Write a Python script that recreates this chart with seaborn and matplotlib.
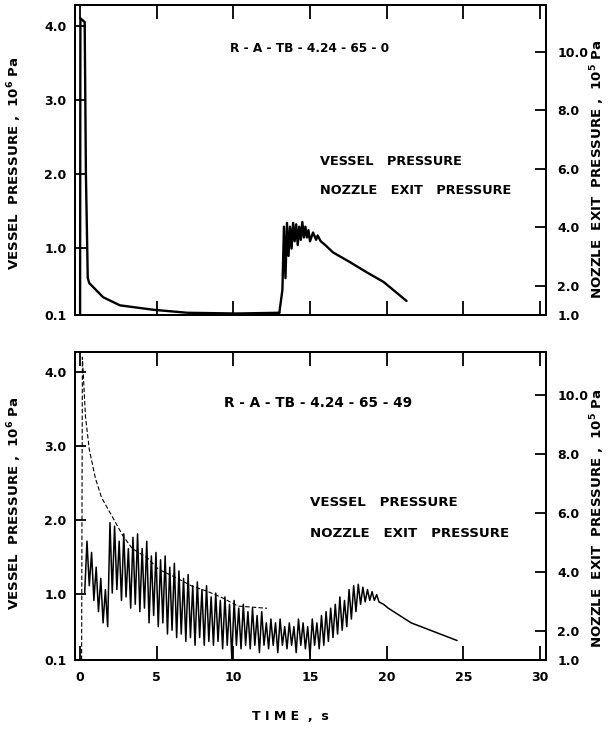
import matplotlib
matplotlib.use("Agg")
import matplotlib.pyplot as plt
import seaborn as sns

sns.set_style("ticks")
plt.rcParams['font.family'] = ['DejaVu Sans']
plt.rcParams['font.weight'] = 'bold'
for k in ("text.color", "axes.labelcolor", "xtick.color", "ytick.color", "axes.edgecolor"):
    plt.rcParams[k] = "black"

# ---------------- data ----------------
x_ticks = [0, 5, 10, 15, 20, 25, 30]
left_ticks = [0.1, 1.0, 2.0, 3.0, 4.0]
left_labels = ["0.1", "1.0", "2.0", "3.0", "4.0"]
right_ticks = [1.0, 2.0, 4.0, 6.0, 8.0, 10.0]
right_labels = ["1.0", "2.0", "4.0", "6.0", "8.0", "10.0"]

# top panel: R-A-TB-4.24-65-0
top_vessel_t = [0.0, 0.02, 0.3, 0.38, 0.5, 0.6, 1.5, 2.6, 4.8, 7.0, 10.2, 13.0]
top_vessel_p = [0.1, 4.1, 4.05, 2.0, 0.6, 0.53, 0.34, 0.23, 0.17, 0.13, 0.12, 0.13]   # 10^6 Pa

top_nozzle_t = [13.0, 13.2, 13.3, 13.4, 13.5, 13.6, 13.7, 13.8, 13.9, 14.0, 14.1, 14.2,
                14.3, 14.4, 14.5, 14.6, 14.7, 14.8, 14.9, 15.0, 15.2, 15.4, 15.5, 15.7,
                16.0, 16.5, 17.6, 18.7, 19.8, 21.3]
top_nozzle_p = [1.08, 1.86, 4.02, 2.26, 4.15, 3.02, 4.02, 3.27, 4.15, 3.52, 4.10, 3.39,
                4.02, 3.57, 4.18, 3.65, 4.02, 3.65, 3.90, 3.52, 3.82, 3.57, 3.72, 3.52,
                3.39, 3.14, 2.81, 2.46, 2.13, 1.48]                                        # 10^5 Pa

# bottom panel: R-A-TB-4.24-65-49
bot_vessel_t = [0.1, 0.15, 0.35, 0.6, 1.0, 1.4, 2.8, 3.4, 4.4, 5.1, 6.4, 7.3, 8.3, 9.3, 10.3, 12.2]
bot_vessel_p = [0.1, 4.2, 3.4, 2.95, 2.56, 2.3, 1.78, 1.61, 1.48, 1.33, 1.2, 1.1, 1.03, 0.94, 0.83, 0.8]

bot_nozzle_t = [0.30, 0.45, 0.60, 0.75, 0.90, 1.05, 1.20, 1.35, 1.50, 1.65, 1.80, 1.95,
                2.10, 2.25, 2.40, 2.55, 2.70, 2.85, 3.00, 3.15, 3.30, 3.45, 3.60, 3.75,
                3.90, 4.05, 4.20, 4.35, 4.50, 4.65, 4.80, 4.95, 5.10, 5.25, 5.40, 5.55,
                5.70, 5.85, 6.00, 6.15, 6.30, 6.45, 6.60, 6.75, 6.90, 7.05, 7.20, 7.35,
                7.50, 7.65, 7.80, 7.95, 8.10, 8.25, 8.40, 8.55, 8.70, 8.85, 9.00, 9.15,
                9.30, 9.45, 9.60, 9.75, 9.90, 10.05, 10.20, 10.35, 10.50, 10.65, 10.80, 10.95,
                11.10, 11.25, 11.40, 11.55, 11.70, 11.85, 12.00, 12.15, 12.30, 12.45, 12.60, 12.75,
                12.90, 13.05, 13.20, 13.35, 13.50, 13.65, 13.80, 13.95, 14.10, 14.25, 14.40, 14.55,
                14.70, 14.85, 15.00, 15.15, 15.30, 15.45, 15.60, 15.75, 15.90, 16.05, 16.20, 16.35,
                16.50, 16.65, 16.80, 16.95, 17.10, 17.25, 17.40, 17.55, 17.70, 17.85, 18.00, 18.15,
                18.30, 18.45, 18.60, 18.75, 18.90, 19.05, 19.20, 19.35, 19.50, 19.80, 20.10, 21.60,
                23.00, 24.60]
bot_nozzle_p = [3.27, 5.03, 3.52, 4.65, 3.02, 4.15, 2.64, 3.77, 2.26, 3.39, 2.13, 5.66,
                3.27, 5.54, 3.39, 5.03, 3.02, 5.28, 3.14, 4.78, 2.76, 5.16, 2.89, 5.28,
                2.64, 4.78, 2.76, 5.03, 2.26, 4.53, 2.51, 4.65, 2.13, 4.40, 2.26, 4.53,
                1.88, 4.15, 2.01, 4.28, 1.76, 4.02, 1.88, 3.77, 1.63, 3.90, 1.76, 3.52,
                1.50, 3.65, 1.76, 3.39, 1.50, 3.52, 1.63, 3.14, 1.50, 3.27, 1.63, 3.02,
                1.38, 3.14, 1.50, 2.89, 1.05, 3.02, 1.50, 2.76, 1.38, 2.89, 1.50, 2.64,
                1.38, 2.76, 1.50, 2.51, 1.25, 2.64, 1.50, 2.26, 1.38, 2.39, 1.50, 2.26,
                1.25, 2.39, 1.50, 2.13, 1.38, 2.26, 1.50, 2.13, 1.25, 2.39, 1.50, 2.26,
                1.38, 2.13, 1.13, 2.39, 1.50, 2.26, 1.38, 2.51, 1.50, 2.64, 1.63, 2.76,
                1.76, 2.89, 1.88, 3.14, 2.01, 3.02, 2.13, 3.39, 2.39, 3.52, 2.64, 3.57,
                2.89, 3.47, 2.97, 3.39, 3.02, 3.32, 3.02, 3.22, 2.97, 2.89, 2.76, 2.26,
                1.98, 1.66]

# ---------------- figure ----------------
fig = plt.figure(figsize=(6.09, 7.30), dpi=100)
L, W = 0.1232, 0.7734
ax_top = fig.add_axes([L, 0.5685, W, 0.4247])
ax_bot = fig.add_axes([L, 0.0959, W, 0.4219])

panels = [
    (ax_top, top_vessel_t, top_vessel_p, top_nozzle_t, top_nozzle_p, 4.28, 11.6,
     "R - A - TB - 4.24 - 65 - 0", (0.499, 0.861), 8.7, (0.52, 0.494, 0.40), 9.3),
    (ax_bot, bot_vessel_t, bot_vessel_p, bot_nozzle_t, bot_nozzle_p, 4.27, 11.45,
     "R - A - TB - 4.24 - 65 - 49", (0.515, 0.834), 9.8, (0.499, 0.51, 0.412), 9.6),
]

for i, (ax, vt, vp, nt, npv, ltop, rtop, title, tpos, tfs, lpos, lfs) in enumerate(panels):
    axr = ax.twinx()
    if i == 0:
        sns.lineplot(x=vt, y=vp, ax=ax, color="black", lw=1.7, estimator=None, sort=False)
        sns.lineplot(x=nt, y=npv, ax=axr, color="black", lw=1.7, estimator=None, sort=False)
    else:
        sns.lineplot(x=vt, y=vp, ax=ax, color="black", lw=0.8, estimator=None, sort=False,
                     linestyle=(0, (4, 2)))
        sns.lineplot(x=nt, y=npv, ax=axr, color="black", lw=1.1, estimator=None, sort=False)

    ax.set_xlim(-0.33, 30.4)
    ax.set_ylim(0.1, ltop)
    axr.set_ylim(1.0, rtop)

    ax.set_xticks(x_ticks)
    ax.set_yticks(left_ticks)
    ax.set_yticklabels(left_labels)
    axr.set_yticks(right_ticks)
    axr.set_yticklabels(right_labels)

    ax.tick_params(axis="x", direction="in", length=10, width=1.3, top=True, bottom=True,
                   labelsize=9, pad=8)
    ax.tick_params(axis="y", direction="in", length=8, width=1.3, labelsize=9, pad=6)
    axr.tick_params(axis="y", direction="in", length=8, width=1.3, labelsize=9, pad=8)
    if i == 0:
        ax.tick_params(axis="x", labelbottom=False)

    for a in (ax, axr):
        for s in a.spines.values():
            s.set_linewidth(1.4)
            s.set_color("black")
        a.set_xlabel("")

    ax.set_ylabel(r"VESSEL  PRESSURE ,  10$^6$ Pa", fontsize=9.6, fontweight="bold")
    axr.set_ylabel(r"NOZZLE  EXIT  PRESSURE ,  10$^5$ Pa", fontsize=9.6, fontweight="bold",
                   rotation=90)
    ax.yaxis.set_label_coords(-0.108, 0.49 if i == 0 else 0.51)
    axr.yaxis.set_label_coords(1.09, 0.47 if i == 0 else 0.46)

    ax.text(tpos[0], tpos[1], title, transform=ax.transAxes, ha="center", va="center",
            fontsize=tfs, fontweight="bold")
    ax.text(lpos[0], lpos[1], "VESSEL   PRESSURE", transform=ax.transAxes, ha="left",
            va="center", fontsize=lfs, fontweight="bold")
    ax.text(lpos[0], lpos[2], "NOZZLE   EXIT   PRESSURE", transform=ax.transAxes, ha="left",
            va="center", fontsize=lfs, fontweight="bold")

fig.text(290 / 609, 1 - 716 / 730, "T I M E  ,  s", ha="center", va="center",
         fontsize=9, fontweight="bold")

fig.savefig("out.png", dpi=100, facecolor="white")
